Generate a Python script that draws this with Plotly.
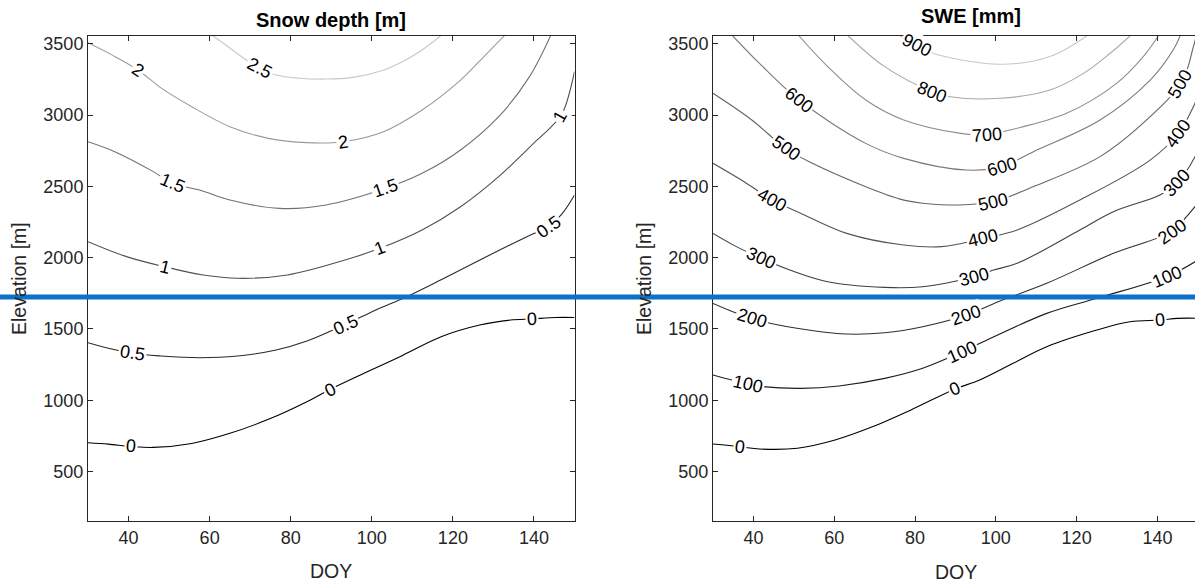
import numpy as np
import plotly.graph_objects as go

# ---------------- data ----------------
TICK_DOY = [40, 60, 80, 100, 120, 140]
TICK_ELEV = [500, 1000, 1500, 2000, 2500, 3000, 3500]
DOY_RANGE_LEFT = [30, 150]
DOY_RANGE_RIGHT = [30, 149.3]
ELEV_RANGE = [153, 3554]
MARKER_ELEV = 1724  # blue horizontal line

# Snow depth [m] contour lines: (DOY, elevation) pairs
SD_LEVELS = ["0", "0.5", "1", "1.5", "2", "2.5"]
sd_0_doy = [30, 35, 40.6, 46, 55.6, 65, 74.5, 84, 89.7, 98.2, 107.7, 117.1, 126.6, 134.2, 139.4, 145.5, 150]
sd_0_elev = [702, 692, 676, 669, 697, 768, 866, 990, 1075, 1190, 1316, 1445, 1527, 1562, 1570, 1580, 1580]
sd_05_doy = [30, 35, 40.9, 48, 57.5, 66.9, 76.4, 84, 93.4, 101, 108.6, 117.1, 124, 131.3, 138.9, 143.6, 147, 150]
sd_05_elev = [1403, 1365, 1329, 1310, 1298, 1310, 1352, 1415, 1530, 1633, 1726, 1845, 1945, 2050, 2155, 2217, 2310, 2439]
sd_1_doy = [30, 39.5, 48.9, 58.4, 66.9, 79.2, 93.4, 102, 112.4, 121.9, 131.3, 140.8, 144, 147, 150]
sd_1_elev = [2112, 2007, 1936, 1878, 1855, 1878, 1983, 2065, 2194, 2357, 2568, 2825, 2910, 3012, 3304]
sd_15_doy = [30, 36.6, 46.1, 50.8, 57.5, 65, 77.3, 88.7, 103.4, 112.4, 121.9, 131.3, 138.9, 144.1]
sd_15_elev = [2813, 2743, 2603, 2521, 2474, 2404, 2345, 2369, 2486, 2591, 2755, 2988, 3269, 3556]
sd_2_doy = [30, 36, 42.3, 48, 55.6, 65, 74.5, 84, 93, 102.9, 112.4, 121.9, 127, 132.7]
sd_2_elev = [3507, 3420, 3316, 3190, 3058, 2918, 2836, 2806, 2813, 2883, 3035, 3245, 3390, 3556]
sd_25_doy = [60.8, 64.5, 67.9, 72.3, 76.4, 82, 88.7, 95, 103, 108, 112.4, 117]
sd_25_elev = [3556, 3480, 3409, 3327, 3280, 3258, 3252, 3262, 3316, 3380, 3456, 3556]
sd_label_doy = [[40.6, 89.7, 139.4], [40.9, 93.4, 143.6], [48.9, 102, 146.3], [50.8, 103.4], [42.3, 93], [72.3]]
SD_COLORS = ["#000000", "#2a2a2a", "#505050", "#707070", "#9a9a9a", "#c8c8c8"]

# SWE [mm] contour lines
SWE_LEVELS = ["0", "100", "200", "300", "400", "500", "600", "700", "800", "900"]
swe_0_doy = [30, 36.8, 41.5, 50.9, 60.2, 69.6, 79, 89.8, 96, 104.3, 112.6, 125, 133.2, 140.6, 145, 150]
swe_0_elev = [693, 674, 658, 663, 721, 815, 932, 1077, 1142, 1259, 1375, 1492, 1550, 1562, 1574, 1575]
swe_100_doy = [30, 38.6, 42.4, 51.8, 61.2, 72.5, 81.9, 91.7, 96.1, 112.6, 125, 142.3, 149.3, 150]
swe_100_elev = [1177, 1114, 1095, 1083, 1100, 1153, 1224, 1340, 1399, 1609, 1715, 1866, 1971, 1985]
swe_200_doy = [30, 34.9, 39.6, 46.2, 53.7, 63.1, 72.5, 81.9, 92.7, 100.6, 112.6, 129.1, 143.5, 147.2, 149.3, 150]
swe_200_elev = [1679, 1621, 1574, 1527, 1492, 1464, 1473, 1515, 1597, 1691, 1820, 2030, 2182, 2287, 2357, 2380]
swe_300_doy = [30, 35.8, 41.9, 49, 58.4, 72.5, 81.9, 94.5, 99.4, 105.3, 120.8, 129.1, 140.6, 144.8, 149.3, 150]
swe_300_elev = [2170, 2077, 1995, 1913, 1831, 1791, 1796, 1866, 1913, 1960, 2194, 2322, 2439, 2521, 2708, 2760]
swe_400_doy = [30, 37.7, 44.7, 51.8, 63.1, 77.2, 86.6, 96.9, 105.3, 120.8, 138.2, 145.2, 149.3, 150]
swe_400_elev = [2661, 2532, 2404, 2310, 2170, 2088, 2077, 2135, 2194, 2404, 2684, 2872, 3082, 3130]
swe_500_doy = [30, 39.6, 48, 54.6, 67.8, 76.3, 81.9, 88.7, 99.4, 109.2, 125.8, 138.2, 146.1, 148.9, 150]
swe_500_elev = [3152, 2965, 2766, 2661, 2497, 2410, 2381, 2369, 2392, 2497, 2708, 2988, 3233, 3479, 3600]
swe_600_doy = [34.9, 41.5, 51.3, 67.8, 77.2, 92.8, 101.5, 109.3, 125.8, 138.2, 143.9, 145.6]
swe_600_elev = [3554, 3362, 3105, 2801, 2696, 2614, 2638, 2743, 2965, 3245, 3456, 3554]
swe_700_doy = [51.3, 58.4, 67.8, 77.2, 91.3, 97.7, 103.5, 117.5, 129.9, 136.5, 140.2]
swe_700_elev = [3554, 3339, 3105, 2965, 2871, 2860, 2895, 3012, 3222, 3409, 3554]
swe_800_doy = [63.5, 72.5, 84.2, 88.7, 101, 113.4, 121.7, 128.3, 133.2]
swe_800_elev = [3554, 3339, 3164, 3128, 3117, 3175, 3292, 3433, 3554]
swe_900_doy = [76.2, 80.4, 84.5, 101, 113.4, 122.5]
swe_900_elev = [3554, 3491, 3433, 3356, 3410, 3554]
swe_label_doy = [[36.8, 89.8, 140.6], [38.6, 91.7, 142.3], [39.6, 92.7, 143.5], [41.9, 94.5, 144.8],
                 [44.7, 96.9, 145.2], [48, 99.4, 145.6], [51.3, 101.5], [97.7], [84.2], [80.4]]
SWE_COLORS = ["#000000", "#1c1c1c", "#2e2e2e", "#404040", "#555555", "#666666",
              "#7a7a7a", "#8e8e8e", "#a8a8a8", "#c8c8c8"]

# ---------------- layout geometry ----------------
W, H = 1195, 586
M_T, M_B = 36, 65
LEFT_DOMAIN = [88 / W, 574.5 / W]
RIGHT_DOMAIN = [713 / W, 1.0]
PLOT_H = H - M_T - M_B

FONT = "Liberation Sans, Arial, Helvetica, sans-serif"
AX_COLOR = "#262626"

sd_lines = [(sd_0_doy, sd_0_elev), (sd_05_doy, sd_05_elev), (sd_1_doy, sd_1_elev),
            (sd_15_doy, sd_15_elev), (sd_2_doy, sd_2_elev), (sd_25_doy, sd_25_elev)]
swe_lines = [(swe_0_doy, swe_0_elev), (swe_100_doy, swe_100_elev), (swe_200_doy, swe_200_elev),
             (swe_300_doy, swe_300_elev), (swe_400_doy, swe_400_elev), (swe_500_doy, swe_500_elev),
             (swe_600_doy, swe_600_elev), (swe_700_doy, swe_700_elev), (swe_800_doy, swe_800_elev),
             (swe_900_doy, swe_900_elev)]

fig = go.Figure()
annotations = []


def add_panel(lines, levels, colors, label_doys, xref, yref, domain, xrange):
    px_per_doy = (domain[1] - domain[0]) * W / (xrange[1] - xrange[0])
    px_per_m = PLOT_H / (ELEV_RANGE[1] - ELEV_RANGE[0])
    for (d, e), lev, col, ldoys in zip(lines, levels, colors, label_doys):
        fig.add_trace(go.Scatter(x=d, y=e, mode="lines", xaxis=xref, yaxis=yref,
                                 line=dict(color=col, width=1.1, shape="spline", smoothing=1.0),
                                 hoverinfo="skip", showlegend=False))
        for ld in ldoys:
            ly = float(np.interp(ld, d, e))
            e1 = float(np.interp(ld - 1.5, d, e))
            e2 = float(np.interp(ld + 1.5, d, e))
            dx = 3.0 * px_per_doy
            dy = (e2 - e1) * px_per_m
            ang = -np.degrees(np.arctan2(dy, dx))
            annotations.append(dict(x=ld, y=ly, xref=xref, yref=yref, text=lev, showarrow=False,
                                    textangle=ang, font=dict(family=FONT, size=18, color="#000000"),
                                    bgcolor="#ffffff", borderpad=1, xanchor="center", yanchor="middle"))


add_panel(sd_lines, SD_LEVELS, SD_COLORS, sd_label_doy, "x", "y", LEFT_DOMAIN, DOY_RANGE_LEFT)
add_panel(swe_lines, SWE_LEVELS, SWE_COLORS, swe_label_doy, "x2", "y2", RIGHT_DOMAIN, DOY_RANGE_RIGHT)

axis_common = dict(showgrid=False, zeroline=False, showline=True, linecolor=AX_COLOR, linewidth=1,
                   ticks="inside", ticklen=5, tickwidth=1, tickcolor=AX_COLOR,
                   tickfont=dict(family=FONT, size=18, color=AX_COLOR), automargin=False)

fig.update_layout(
    width=W, height=H, template="none",
    margin=dict(l=0, r=0, t=M_T, b=M_B, pad=0),
    paper_bgcolor="#ffffff", plot_bgcolor="#ffffff",
    font=dict(family=FONT, color=AX_COLOR),
    xaxis=dict(domain=LEFT_DOMAIN, range=DOY_RANGE_LEFT, anchor="y", tickvals=TICK_DOY,
               mirror="ticks", **axis_common),
    yaxis=dict(domain=[0, 1], range=ELEV_RANGE, anchor="x", tickvals=TICK_ELEV,
               mirror="ticks", **axis_common),
    xaxis2=dict(domain=RIGHT_DOMAIN, range=DOY_RANGE_RIGHT, anchor="y2", tickvals=TICK_DOY,
                mirror="ticks", **axis_common),
    yaxis2=dict(domain=[0, 1], range=ELEV_RANGE, anchor="x2", tickvals=TICK_ELEV,
                mirror=False, **axis_common),
    showlegend=False,
)


def px_x(px):
    return px / W


def px_y(px):
    return (H - M_B - px) / PLOT_H


text_items = [
    ("<b>Snow depth [m]</b>", 331, 20, 0, 20, "#000000"),
    ("<b>SWE [mm]</b>", 971, 16, 0, 20, "#000000"),
    ("DOY", 331, 571, 0, 19.5, AX_COLOR),
    ("DOY", 956, 572, 0, 19.5, AX_COLOR),
    ("Elevation [m]", 19, 279, -90, 19.5, AX_COLOR),
    ("Elevation [m]", 644, 279, -90, 19.5, AX_COLOR),
]
for txt, xp, yp, ang, sz, col in text_items:
    annotations.append(dict(x=px_x(xp), y=px_y(yp), xref="paper", yref="paper", text=txt,
                            showarrow=False, textangle=ang, xanchor="center", yanchor="middle",
                            font=dict(family=FONT, size=sz, color=col)))

fig.update_layout(annotations=annotations)

fig.add_shape(type="line", xref="paper", yref="y", x0=0, x1=1, y0=MARKER_ELEV, y1=MARKER_ELEV,
              line=dict(color="#0b72c9", width=5), layer="above")

fig.write_html("out.html", config={"displayModeBar": False},
               post_script="document.body.style.margin='0';document.body.style.overflow='hidden';")
